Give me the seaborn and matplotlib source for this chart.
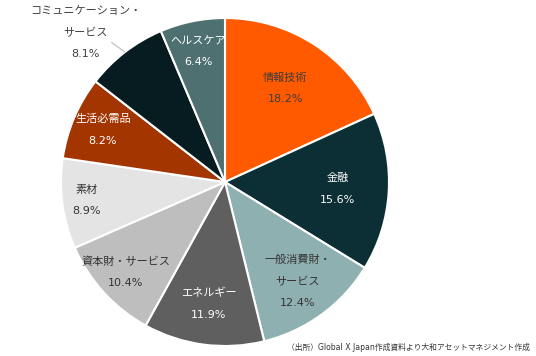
import numpy as np
import matplotlib
matplotlib.use("Agg")
import matplotlib.pyplot as plt
import seaborn as sns

sns.set_theme(style="white")
plt.rcParams['font.family'] = ['DejaVu Sans', 'Noto Sans CJK JP']

### data
sectors = ['情報技術', '金融', '一般消費財・\nサービス', 'エネルギー', '資本財・サービス',
           '素材', '生活必需品', 'コミュニケーション・\nサービス', 'ヘルスケア']
shares = [18.2, 15.6, 12.4, 11.9, 10.4, 8.9, 8.2, 8.1, 6.4]
colors = ['#FF5A00', '#0B2F35', '#8FB0B0', '#5F5F5F', '#BEBEBE',
          '#E4E4E4', '#A33500', '#061C20', '#4E7070']
text_colors = ['#3c3c3c', 'white', '#333333', 'white', '#333333',
               '#333333', 'white', '#404040', 'white']
label_dist = [0.68, 0.69, 0.75, 0.75, 0.82, 0.85, 0.81, None, 0.81]
source = '（出所）Global X Japan作成資料より大和アセットマネジメント作成'

### figure
W, H = 536, 356
fig = plt.figure(figsize=(W / 100, H / 100), dpi=100)
cx, cy, r = 225, 182, 164
ax = fig.add_axes([(cx - r) / W, (H - cy - r) / H, 2 * r / W, 2 * r / H])
wedges, _ = ax.pie(shares, colors=colors, startangle=90, counterclock=False,
                   wedgeprops=dict(edgecolor='white', linewidth=1.5))
ax.set_xlim(-1, 1)
ax.set_ylim(-1, 1)
ax.set_aspect('equal')
ax.axis('off')

for w, name, val, tc, d in zip(wedges, sectors, shares, text_colors, label_dist):
    mid = np.deg2rad((w.theta1 + w.theta2) / 2)
    if d is None:
        # outside label with leader line to the slice edge
        ex, ey = np.cos(mid), np.sin(mid)
        ax.annotate(f'{name}\n{val:.1f}%', xy=(ex, ey), xytext=(-0.848, 0.909),
                    ha='center', va='center', fontsize=8, color=tc, linespacing=2.4,
                    arrowprops=dict(arrowstyle='-', color='#bbbbbb', lw=0.8,
                                    shrinkA=0, shrinkB=0, relpos=(0.73, 0.32)),
                    annotation_clip=False)
        continue
    ax.text(np.cos(mid) * d, np.sin(mid) * d, f'{name}\n{val:.1f}%',
            ha='center', va='center', fontsize=8, color=tc, linespacing=2.4)

fig.text(530 / W, 1 - 347 / H, source, ha='right', va='center', fontsize=5.6, color='#333333')

fig.savefig('out.png', dpi=100)
